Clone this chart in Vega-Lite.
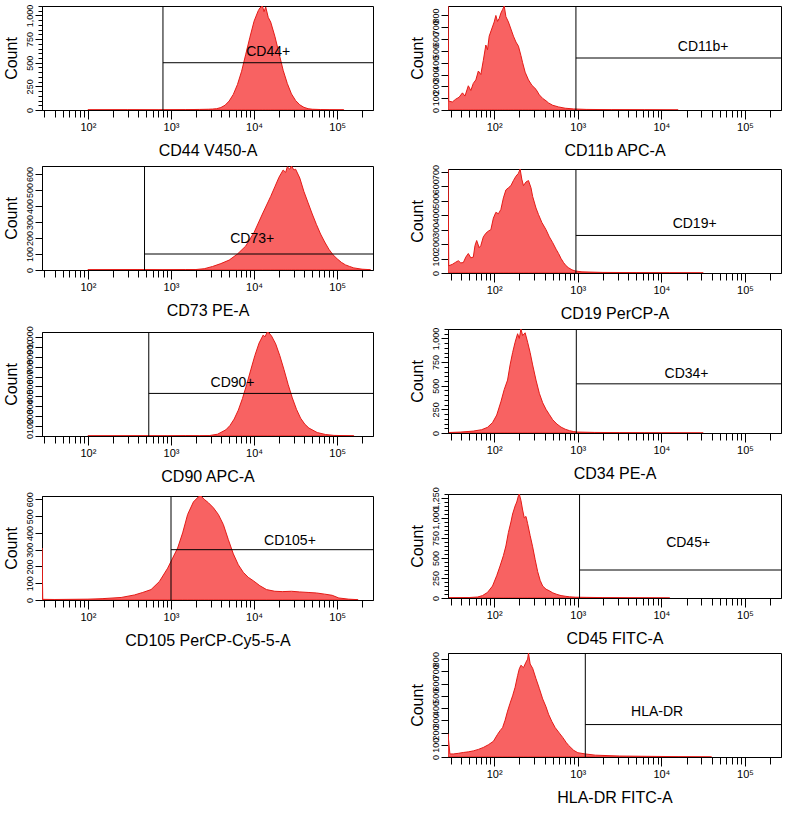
{
"$schema": "https://vega.github.io/schema/vega-lite/v6.json",
"padding": {"left": 2, "top": 3, "right": 2, "bottom": 0},
"config": {"font": "Liberation Sans", "view": {"stroke": "black", "strokeWidth": 1}, "axis": {"grid": false, "domainColor": "black", "tickColor": "black", "labelColor": "black", "titleColor": "black", "titleFontWeight": "normal", "labelFont": "Liberation Sans", "titleFont": "Liberation Sans"}, "rule": {"color": "black", "strokeWidth": 1}, "text": {"fontSize": 14, "align": "center", "baseline": "middle", "color": "black"}},
"datasets": {
"CD44": [{"x":100,"c":2},{"x":300,"c":3},{"x":700,"c":2},{"x":1500,"c":4},{"x":2200,"c":6},{"x":2818,"c":8},{"x":3162,"c":10},{"x":3548,"c":14},{"x":3981,"c":26},{"x":4467,"c":50},{"x":5012,"c":95},{"x":5623,"c":165},{"x":6310,"c":270},{"x":7079,"c":410},{"x":7943,"c":590},{"x":8913,"c":770},{"x":10000,"c":940},{"x":11220,"c":1050},{"x":11749,"c":1080},{"x":12589,"c":1100},{"x":13183,"c":1040},{"x":13804,"c":1090},{"x":14791,"c":980},{"x":15849,"c":930},{"x":17783,"c":780},{"x":19953,"c":600},{"x":22387,"c":420},{"x":25119,"c":280},{"x":28184,"c":170},{"x":31623,"c":100},{"x":35481,"c":55},{"x":39811,"c":28},{"x":44668,"c":14},{"x":50119,"c":8},{"x":63096,"c":5},{"x":80000,"c":3},{"x":120000,"c":2}],
"CD73": [{"x":100,"c":2},{"x":400,"c":3},{"x":800,"c":2},{"x":1500,"c":3},{"x":1995,"c":3},{"x":2512,"c":8},{"x":3162,"c":22},{"x":3981,"c":40},{"x":5012,"c":62},{"x":6310,"c":100},{"x":7943,"c":150},{"x":10000,"c":235},{"x":12589,"c":350},{"x":15849,"c":460},{"x":17783,"c":520},{"x":19953,"c":580},{"x":22387,"c":625},{"x":23988,"c":610},{"x":25119,"c":645},{"x":26915,"c":630},{"x":28184,"c":650},{"x":30200,"c":625},{"x":31623,"c":630},{"x":35481,"c":575},{"x":39811,"c":490},{"x":44668,"c":420},{"x":50119,"c":350},{"x":56234,"c":285},{"x":63096,"c":225},{"x":70795,"c":175},{"x":79433,"c":130},{"x":89125,"c":95},{"x":100000,"c":70},{"x":112202,"c":48},{"x":125893,"c":32},{"x":141254,"c":22},{"x":158489,"c":13},{"x":199526,"c":5},{"x":251189,"c":2}],
"CD90": [{"x":100,"c":2},{"x":400,"c":3},{"x":900,"c":2},{"x":1500,"c":4},{"x":2200,"c":3},{"x":2884,"c":4},{"x":3631,"c":18},{"x":4571,"c":62},{"x":5129,"c":106},{"x":5754,"c":171},{"x":6457,"c":261},{"x":7244,"c":378},{"x":8128,"c":517},{"x":9120,"c":667},{"x":10233,"c":814},{"x":11482,"c":938},{"x":12882,"c":1020},{"x":13490,"c":1000},{"x":14454,"c":1050},{"x":15136,"c":1040},{"x":16218,"c":1010},{"x":18197,"c":930},{"x":20417,"c":810},{"x":22909,"c":670},{"x":25704,"c":520},{"x":28840,"c":385},{"x":32359,"c":270},{"x":36308,"c":180},{"x":40738,"c":120},{"x":45709,"c":80},{"x":57544,"c":35},{"x":72444,"c":15},{"x":91201,"c":6},{"x":158489,"c":2}],
"CD105": [{"x":28,"c":310},{"x":28.6,"c":4},{"x":40,"c":3},{"x":100,"c":5},{"x":148,"c":8},{"x":251,"c":15},{"x":363,"c":30},{"x":457,"c":45},{"x":575,"c":62},{"x":724,"c":110},{"x":912,"c":190},{"x":1047,"c":250},{"x":1202,"c":310},{"x":1380,"c":400},{"x":1585,"c":510},{"x":1862,"c":585},{"x":2138,"c":615},{"x":2291,"c":620},{"x":2512,"c":600},{"x":2818,"c":580},{"x":3236,"c":550},{"x":3715,"c":510},{"x":4266,"c":450},{"x":4898,"c":360},{"x":5623,"c":275},{"x":6457,"c":210},{"x":7413,"c":165},{"x":8511,"c":135},{"x":9772,"c":115},{"x":11749,"c":85},{"x":14125,"c":62},{"x":17783,"c":52},{"x":21878,"c":50},{"x":28184,"c":52},{"x":35481,"c":48},{"x":44668,"c":45},{"x":56234,"c":42},{"x":70795,"c":35},{"x":87096,"c":28},{"x":104713,"c":12},{"x":138038,"c":5},{"x":177828,"c":2}],
"CD11b": [{"x":28,"c":880},{"x":28.6,"c":75},{"x":31.6,"c":68},{"x":34.7,"c":92},{"x":38,"c":108},{"x":41.7,"c":145},{"x":44.7,"c":118},{"x":49,"c":205},{"x":52.5,"c":165},{"x":56.2,"c":225},{"x":60.3,"c":255},{"x":64.6,"c":330},{"x":69.2,"c":300},{"x":74.1,"c":420},{"x":79.4,"c":550},{"x":83.2,"c":510},{"x":87.1,"c":625},{"x":93.3,"c":685},{"x":100,"c":745},{"x":104.7,"c":800},{"x":109.6,"c":750},{"x":114.8,"c":775},{"x":120.2,"c":820},{"x":125.9,"c":850},{"x":131.8,"c":880},{"x":138,"c":790},{"x":147.9,"c":745},{"x":158.5,"c":685},{"x":169.8,"c":625},{"x":182,"c":575},{"x":195,"c":540},{"x":208.9,"c":460},{"x":218.8,"c":400},{"x":234.4,"c":320},{"x":257,"c":255},{"x":281.8,"c":210},{"x":316.2,"c":175},{"x":346.7,"c":128},{"x":380.2,"c":98},{"x":416.9,"c":78},{"x":446.7,"c":60},{"x":501.2,"c":40},{"x":588.8,"c":26},{"x":707.9,"c":15},{"x":891.3,"c":9},{"x":1259,"c":5},{"x":2512,"c":3},{"x":6310,"c":2},{"x":15849,"c":1}],
"CD19": [{"x":28,"c":720},{"x":28.6,"c":50},{"x":31.6,"c":60},{"x":34.7,"c":75},{"x":37.2,"c":85},{"x":39.8,"c":70},{"x":42.7,"c":72},{"x":45.7,"c":110},{"x":49,"c":135},{"x":52.5,"c":105},{"x":56.2,"c":110},{"x":58.9,"c":190},{"x":61.7,"c":225},{"x":66.1,"c":175},{"x":69.2,"c":190},{"x":74.1,"c":250},{"x":79.4,"c":275},{"x":85.1,"c":290},{"x":91.2,"c":300},{"x":97.7,"c":380},{"x":104.7,"c":420},{"x":112.2,"c":410},{"x":120.2,"c":440},{"x":128.8,"c":520},{"x":138,"c":575},{"x":147.9,"c":590},{"x":158.5,"c":605},{"x":169.8,"c":640},{"x":182,"c":670},{"x":195,"c":690},{"x":204.2,"c":720},{"x":213.8,"c":650},{"x":223.9,"c":605},{"x":239.9,"c":630},{"x":257,"c":640},{"x":275.4,"c":590},{"x":288.4,"c":530},{"x":316.2,"c":450},{"x":338.8,"c":405},{"x":371.5,"c":350},{"x":416.9,"c":300},{"x":457.1,"c":250},{"x":501.2,"c":210},{"x":549.5,"c":165},{"x":588.8,"c":135},{"x":631,"c":100},{"x":676.1,"c":72},{"x":724.4,"c":50},{"x":776.2,"c":36},{"x":851.1,"c":22},{"x":933.3,"c":14},{"x":1122,"c":8},{"x":1995,"c":4},{"x":5012,"c":3},{"x":12589,"c":2},{"x":31623,"c":1}],
"CD34": [{"x":28.8,"c":5},{"x":39.8,"c":10},{"x":56.2,"c":20},{"x":70.8,"c":35},{"x":83.2,"c":60},{"x":95.5,"c":110},{"x":107.2,"c":190},{"x":120.2,"c":330},{"x":131.8,"c":460},{"x":144.5,"c":560},{"x":154.9,"c":720},{"x":166,"c":850},{"x":177.8,"c":960},{"x":190.5,"c":1050},{"x":199.5,"c":1000},{"x":208.9,"c":1100},{"x":218.8,"c":1030},{"x":234.4,"c":1060},{"x":251.2,"c":960},{"x":269.2,"c":850},{"x":288.4,"c":720},{"x":316.2,"c":560},{"x":346.7,"c":420},{"x":380.2,"c":320},{"x":416.9,"c":250},{"x":457.1,"c":195},{"x":501.2,"c":140},{"x":562.3,"c":95},{"x":631,"c":62},{"x":707.9,"c":40},{"x":794.3,"c":25},{"x":891.3,"c":15},{"x":1000,"c":10},{"x":1585,"c":6},{"x":3162,"c":4},{"x":6310,"c":3},{"x":10000,"c":2},{"x":31623,"c":1}],
"CD45": [{"x":28.8,"c":4},{"x":50.1,"c":6},{"x":63.1,"c":12},{"x":72.4,"c":30},{"x":83.2,"c":70},{"x":95.5,"c":150},{"x":107.2,"c":280},{"x":117.5,"c":400},{"x":128.8,"c":530},{"x":138,"c":650},{"x":147.9,"c":820},{"x":158.5,"c":950},{"x":166,"c":1050},{"x":177.8,"c":1150},{"x":186.2,"c":1200},{"x":195,"c":1280},{"x":199.5,"c":1300},{"x":208.9,"c":1220},{"x":218.8,"c":1100},{"x":229.1,"c":1000},{"x":239.9,"c":1020},{"x":251.2,"c":930},{"x":269.2,"c":780},{"x":288.4,"c":640},{"x":309,"c":480},{"x":331.1,"c":330},{"x":354.8,"c":220},{"x":380.2,"c":150},{"x":416.9,"c":110},{"x":457.1,"c":90},{"x":501.2,"c":65},{"x":562.3,"c":45},{"x":631,"c":30},{"x":707.9,"c":22},{"x":794.3,"c":15},{"x":933.3,"c":10},{"x":1259,"c":8},{"x":1995,"c":5},{"x":3981,"c":3},{"x":7943,"c":2},{"x":12589,"c":1}],
"HLADR": [{"x":28,"c":190},{"x":29.5,"c":25},{"x":32.4,"c":25},{"x":37.2,"c":30},{"x":42.7,"c":37},{"x":49,"c":42},{"x":56.2,"c":50},{"x":64.6,"c":62},{"x":74.1,"c":78},{"x":85.1,"c":100},{"x":97.7,"c":128},{"x":109.6,"c":185},{"x":117.5,"c":215},{"x":125.9,"c":240},{"x":134.9,"c":300},{"x":144.5,"c":375},{"x":154.9,"c":440},{"x":166,"c":500},{"x":177.8,"c":570},{"x":190.5,"c":665},{"x":199.5,"c":720},{"x":208.9,"c":750},{"x":223.9,"c":730},{"x":239.9,"c":775},{"x":251.2,"c":800},{"x":257,"c":850},{"x":269.2,"c":760},{"x":288.4,"c":725},{"x":316.2,"c":640},{"x":346.7,"c":560},{"x":380.2,"c":475},{"x":416.9,"c":410},{"x":446.7,"c":350},{"x":489.8,"c":290},{"x":537,"c":240},{"x":602.6,"c":195},{"x":660.7,"c":160},{"x":724.4,"c":120},{"x":776.2,"c":95},{"x":891.3,"c":55},{"x":1000,"c":35},{"x":1230,"c":25},{"x":1622,"c":15},{"x":3162,"c":8},{"x":7943,"c":5},{"x":15849,"c":3},{"x":39811,"c":1}]
},
"hconcat": [
{"spacing": 6, "vconcat": [
{"width": 331, "height": 104,
 "encoding": {"x": {"field": "x", "type": "quantitative", "scale": {"type": "log", "domain": [28, 270000], "nice": false}, "axis": {"title": "CD44 V450-A", "values": [30,40,50,60,70,80,90,100,200,300,400,500,600,700,800,900,1000,2000,3000,4000,5000,6000,7000,8000,9000,10000,20000,30000,40000,50000,60000,70000,80000,90000,100000,200000], "labelExpr": "datum.value == 100 ? '10²' : datum.value == 1000 ? '10³' : datum.value == 10000 ? '10⁴' : datum.value == 100000 ? '10⁵' : ''", "tickSize": {"condition": {"test": "indexof([100,1000,10000,100000], datum.value) >= 0", "value": 9}, "value": 7}, "labelOverlap": false, "labelFontSize": 11, "labelPadding": 2, "titleFontSize": 16, "titlePadding": 10}},
   "y": {"field": "c", "type": "quantitative", "scale": {"domain": [0, 1100], "nice": false}, "axis": {"title": "Count", "values": [0,50,100,150,200,250,300,350,400,450,500,550,600,650,700,750,800,850,900,950,1000,1050,1100], "labelExpr": "datum.value % 250 == 0 ? format(datum.value, ',') : ''", "tickSize": {"condition": {"test": "datum.value % 250 == 0", "value": 7}, "value": 4}, "labelAngle": -90, "labelAlign": "center", "labelBaseline": "bottom", "labelOverlap": false, "labelFontSize": 9, "labelPadding": 1, "titleFontSize": 16, "titlePadding": 6}}},
 "layer": [
  {"data": {"name": "CD44"}, "mark": {"type": "area", "fill": "#f86262", "opacity": 1, "fillOpacity": 1, "stroke": "#e41b17", "strokeWidth": 1, "clip": true}},
  {"data": {"values": [{"x": 800, "c": 0, "c2": 1100}]}, "mark": "rule", "encoding": {"y2": {"field": "c2"}}},
  {"data": {"values": [{"x": 800, "x2": 270000, "c": 500}]}, "mark": "rule", "encoding": {"x2": {"field": "x2"}}},
  {"data": {"values": [{"x": 14800, "c": 609, "label": "CD44+"}]}, "mark": "text", "encoding": {"text": {"field": "label"}}}
 ]},
{"width": 331, "height": 104,
 "encoding": {"x": {"field": "x", "type": "quantitative", "scale": {"type": "log", "domain": [28, 270000], "nice": false}, "axis": {"title": "CD73 PE-A", "values": [30,40,50,60,70,80,90,100,200,300,400,500,600,700,800,900,1000,2000,3000,4000,5000,6000,7000,8000,9000,10000,20000,30000,40000,50000,60000,70000,80000,90000,100000,200000], "labelExpr": "datum.value == 100 ? '10²' : datum.value == 1000 ? '10³' : datum.value == 10000 ? '10⁴' : datum.value == 100000 ? '10⁵' : ''", "tickSize": {"condition": {"test": "indexof([100,1000,10000,100000], datum.value) >= 0", "value": 9}, "value": 7}, "labelOverlap": false, "labelFontSize": 11, "labelPadding": 2, "titleFontSize": 16, "titlePadding": 10}},
   "y": {"field": "c", "type": "quantitative", "scale": {"domain": [0, 650], "nice": false}, "axis": {"title": "Count", "values": [0,100,200,300,400,500,600], "labelExpr": "format(datum.value, ',')", "tickSize": 7, "labelAngle": -90, "labelAlign": "center", "labelBaseline": "bottom", "labelOverlap": false, "labelFontSize": 9, "labelPadding": 1, "titleFontSize": 16, "titlePadding": 6}}},
 "layer": [
  {"data": {"name": "CD73"}, "mark": {"type": "area", "fill": "#f86262", "opacity": 1, "fillOpacity": 1, "stroke": "#e41b17", "strokeWidth": 1, "clip": true}},
  {"data": {"values": [{"x": 480, "c": 0, "c2": 650}]}, "mark": "rule", "encoding": {"y2": {"field": "c2"}}},
  {"data": {"values": [{"x": 480, "x2": 270000, "c": 100}]}, "mark": "rule", "encoding": {"x2": {"field": "x2"}}},
  {"data": {"values": [{"x": 9500, "c": 194, "label": "CD73+"}]}, "mark": "text", "encoding": {"text": {"field": "label"}}}
 ]},
{"width": 331, "height": 104,
 "encoding": {"x": {"field": "x", "type": "quantitative", "scale": {"type": "log", "domain": [28, 270000], "nice": false}, "axis": {"title": "CD90 APC-A", "values": [30,40,50,60,70,80,90,100,200,300,400,500,600,700,800,900,1000,2000,3000,4000,5000,6000,7000,8000,9000,10000,20000,30000,40000,50000,60000,70000,80000,90000,100000,200000], "labelExpr": "datum.value == 100 ? '10²' : datum.value == 1000 ? '10³' : datum.value == 10000 ? '10⁴' : datum.value == 100000 ? '10⁵' : ''", "tickSize": {"condition": {"test": "indexof([100,1000,10000,100000], datum.value) >= 0", "value": 9}, "value": 7}, "labelOverlap": false, "labelFontSize": 11, "labelPadding": 2, "titleFontSize": 16, "titlePadding": 10}},
   "y": {"field": "c", "type": "quantitative", "scale": {"domain": [0, 1050], "nice": false}, "axis": {"title": "Count", "values": [0,100,200,300,400,500,600,700,800,900,1000], "labelExpr": "format(datum.value, ',')", "tickSize": 7, "labelAngle": -90, "labelAlign": "center", "labelBaseline": "bottom", "labelOverlap": false, "labelFontSize": 9, "labelPadding": 1, "titleFontSize": 16, "titlePadding": 6}}},
 "layer": [
  {"data": {"name": "CD90"}, "mark": {"type": "area", "fill": "#f86262", "opacity": 1, "fillOpacity": 1, "stroke": "#e41b17", "strokeWidth": 1, "clip": true}},
  {"data": {"values": [{"x": 540, "c": 0, "c2": 1050}]}, "mark": "rule", "encoding": {"y2": {"field": "c2"}}},
  {"data": {"values": [{"x": 540, "x2": 270000, "c": 430}]}, "mark": "rule", "encoding": {"x2": {"field": "x2"}}},
  {"data": {"values": [{"x": 5500, "c": 535, "label": "CD90+"}]}, "mark": "text", "encoding": {"text": {"field": "label"}}}
 ]},
{"width": 331, "height": 104,
 "encoding": {"x": {"field": "x", "type": "quantitative", "scale": {"type": "log", "domain": [28, 270000], "nice": false}, "axis": {"title": "CD105 PerCP-Cy5-5-A", "values": [30,40,50,60,70,80,90,100,200,300,400,500,600,700,800,900,1000,2000,3000,4000,5000,6000,7000,8000,9000,10000,20000,30000,40000,50000,60000,70000,80000,90000,100000,200000], "labelExpr": "datum.value == 100 ? '10²' : datum.value == 1000 ? '10³' : datum.value == 10000 ? '10⁴' : datum.value == 100000 ? '10⁵' : ''", "tickSize": {"condition": {"test": "indexof([100,1000,10000,100000], datum.value) >= 0", "value": 9}, "value": 7}, "labelOverlap": false, "labelFontSize": 11, "labelPadding": 2, "titleFontSize": 16, "titlePadding": 10}},
   "y": {"field": "c", "type": "quantitative", "scale": {"domain": [0, 620], "nice": false}, "axis": {"title": "Count", "values": [0,100,200,300,400,500,600], "labelExpr": "format(datum.value, ',')", "tickSize": 7, "labelAngle": -90, "labelAlign": "center", "labelBaseline": "bottom", "labelOverlap": false, "labelFontSize": 9, "labelPadding": 1, "titleFontSize": 16, "titlePadding": 6}}},
 "layer": [
  {"data": {"name": "CD105"}, "mark": {"type": "area", "fill": "#f86262", "opacity": 1, "fillOpacity": 1, "stroke": "#e41b17", "strokeWidth": 1, "clip": true}},
  {"data": {"values": [{"x": 1000, "c": 0, "c2": 620}]}, "mark": "rule", "encoding": {"y2": {"field": "c2"}}},
  {"data": {"values": [{"x": 1000, "x2": 270000, "c": 300}]}, "mark": "rule", "encoding": {"x2": {"field": "x2"}}},
  {"data": {"values": [{"x": 27000, "c": 349, "label": "CD105+"}]}, "mark": "text", "encoding": {"text": {"field": "label"}}}
 ]}
]},
{"spacing": 4, "vconcat": [
{"width": 333, "height": 104,
 "encoding": {"x": {"field": "x", "type": "quantitative", "scale": {"type": "log", "domain": [28, 270000], "nice": false}, "axis": {"title": "CD11b APC-A", "values": [30,40,50,60,70,80,90,100,200,300,400,500,600,700,800,900,1000,2000,3000,4000,5000,6000,7000,8000,9000,10000,20000,30000,40000,50000,60000,70000,80000,90000,100000,200000], "labelExpr": "datum.value == 100 ? '10²' : datum.value == 1000 ? '10³' : datum.value == 10000 ? '10⁴' : datum.value == 100000 ? '10⁵' : ''", "tickSize": {"condition": {"test": "indexof([100,1000,10000,100000], datum.value) >= 0", "value": 9}, "value": 7}, "labelOverlap": false, "labelFontSize": 11, "labelPadding": 2, "titleFontSize": 16, "titlePadding": 10}},
   "y": {"field": "c", "type": "quantitative", "scale": {"domain": [0, 880], "nice": false}, "axis": {"title": "Count", "values": [0,100,200,300,400,500,600,700,800], "labelExpr": "format(datum.value, ',')", "tickSize": 7, "labelAngle": -90, "labelAlign": "center", "labelBaseline": "bottom", "labelOverlap": false, "labelFontSize": 9, "labelPadding": 1, "titleFontSize": 16, "titlePadding": 6}}},
 "layer": [
  {"data": {"name": "CD11b"}, "mark": {"type": "area", "fill": "#f86262", "opacity": 1, "fillOpacity": 1, "stroke": "#e41b17", "strokeWidth": 1, "clip": true}},
  {"data": {"values": [{"x": 950, "c": 0, "c2": 880}]}, "mark": "rule", "encoding": {"y2": {"field": "c2"}}},
  {"data": {"values": [{"x": 950, "x2": 270000, "c": 440}]}, "mark": "rule", "encoding": {"x2": {"field": "x2"}}},
  {"data": {"values": [{"x": 31600, "c": 536, "label": "CD11b+"}]}, "mark": "text", "encoding": {"text": {"field": "label"}}}
 ]},
{"width": 333, "height": 104,
 "encoding": {"x": {"field": "x", "type": "quantitative", "scale": {"type": "log", "domain": [28, 270000], "nice": false}, "axis": {"title": "CD19 PerCP-A", "values": [30,40,50,60,70,80,90,100,200,300,400,500,600,700,800,900,1000,2000,3000,4000,5000,6000,7000,8000,9000,10000,20000,30000,40000,50000,60000,70000,80000,90000,100000,200000], "labelExpr": "datum.value == 100 ? '10²' : datum.value == 1000 ? '10³' : datum.value == 10000 ? '10⁴' : datum.value == 100000 ? '10⁵' : ''", "tickSize": {"condition": {"test": "indexof([100,1000,10000,100000], datum.value) >= 0", "value": 9}, "value": 7}, "labelOverlap": false, "labelFontSize": 11, "labelPadding": 2, "titleFontSize": 16, "titlePadding": 10}},
   "y": {"field": "c", "type": "quantitative", "scale": {"domain": [0, 720], "nice": false}, "axis": {"title": "Count", "values": [0,100,200,300,400,500,600,700], "labelExpr": "format(datum.value, ',')", "tickSize": 7, "labelAngle": -90, "labelAlign": "center", "labelBaseline": "bottom", "labelOverlap": false, "labelFontSize": 9, "labelPadding": 1, "titleFontSize": 16, "titlePadding": 6}}},
 "layer": [
  {"data": {"name": "CD19"}, "mark": {"type": "area", "fill": "#f86262", "opacity": 1, "fillOpacity": 1, "stroke": "#e41b17", "strokeWidth": 1, "clip": true}},
  {"data": {"values": [{"x": 950, "c": 0, "c2": 720}]}, "mark": "rule", "encoding": {"y2": {"field": "c2"}}},
  {"data": {"values": [{"x": 950, "x2": 270000, "c": 260}]}, "mark": "rule", "encoding": {"x2": {"field": "x2"}}},
  {"data": {"values": [{"x": 25000, "c": 339, "label": "CD19+"}]}, "mark": "text", "encoding": {"text": {"field": "label"}}}
 ]},
{"width": 333, "height": 104,
 "encoding": {"x": {"field": "x", "type": "quantitative", "scale": {"type": "log", "domain": [28, 270000], "nice": false}, "axis": {"title": "CD34 PE-A", "values": [30,40,50,60,70,80,90,100,200,300,400,500,600,700,800,900,1000,2000,3000,4000,5000,6000,7000,8000,9000,10000,20000,30000,40000,50000,60000,70000,80000,90000,100000,200000], "labelExpr": "datum.value == 100 ? '10²' : datum.value == 1000 ? '10³' : datum.value == 10000 ? '10⁴' : datum.value == 100000 ? '10⁵' : ''", "tickSize": {"condition": {"test": "indexof([100,1000,10000,100000], datum.value) >= 0", "value": 9}, "value": 7}, "labelOverlap": false, "labelFontSize": 11, "labelPadding": 2, "titleFontSize": 16, "titlePadding": 10}},
   "y": {"field": "c", "type": "quantitative", "scale": {"domain": [0, 1100], "nice": false}, "axis": {"title": "Count", "values": [0,50,100,150,200,250,300,350,400,450,500,550,600,650,700,750,800,850,900,950,1000,1050,1100], "labelExpr": "datum.value % 250 == 0 ? format(datum.value, ',') : ''", "tickSize": {"condition": {"test": "datum.value % 250 == 0", "value": 7}, "value": 4}, "labelAngle": -90, "labelAlign": "center", "labelBaseline": "bottom", "labelOverlap": false, "labelFontSize": 9, "labelPadding": 1, "titleFontSize": 16, "titlePadding": 6}}},
 "layer": [
  {"data": {"name": "CD34"}, "mark": {"type": "area", "fill": "#f86262", "opacity": 1, "fillOpacity": 1, "stroke": "#e41b17", "strokeWidth": 1, "clip": true}},
  {"data": {"values": [{"x": 960, "c": 0, "c2": 1100}]}, "mark": "rule", "encoding": {"y2": {"field": "c2"}}},
  {"data": {"values": [{"x": 960, "x2": 270000, "c": 520}]}, "mark": "rule", "encoding": {"x2": {"field": "x2"}}},
  {"data": {"values": [{"x": 20000, "c": 625, "label": "CD34+"}]}, "mark": "text", "encoding": {"text": {"field": "label"}}}
 ]},
{"width": 333, "height": 104,
 "encoding": {"x": {"field": "x", "type": "quantitative", "scale": {"type": "log", "domain": [28, 270000], "nice": false}, "axis": {"title": "CD45 FITC-A", "values": [30,40,50,60,70,80,90,100,200,300,400,500,600,700,800,900,1000,2000,3000,4000,5000,6000,7000,8000,9000,10000,20000,30000,40000,50000,60000,70000,80000,90000,100000,200000], "labelExpr": "datum.value == 100 ? '10²' : datum.value == 1000 ? '10³' : datum.value == 10000 ? '10⁴' : datum.value == 100000 ? '10⁵' : ''", "tickSize": {"condition": {"test": "indexof([100,1000,10000,100000], datum.value) >= 0", "value": 9}, "value": 7}, "labelOverlap": false, "labelFontSize": 11, "labelPadding": 2, "titleFontSize": 16, "titlePadding": 10}},
   "y": {"field": "c", "type": "quantitative", "scale": {"domain": [0, 1300], "nice": false}, "axis": {"title": "Count", "values": [0,50,100,150,200,250,300,350,400,450,500,550,600,650,700,750,800,850,900,950,1000,1050,1100,1150,1200,1250,1300], "labelExpr": "datum.value % 250 == 0 ? format(datum.value, ',') : ''", "tickSize": {"condition": {"test": "datum.value % 250 == 0", "value": 7}, "value": 4}, "labelAngle": -90, "labelAlign": "center", "labelBaseline": "bottom", "labelOverlap": false, "labelFontSize": 9, "labelPadding": 1, "titleFontSize": 16, "titlePadding": 6}}},
 "layer": [
  {"data": {"name": "CD45"}, "mark": {"type": "area", "fill": "#f86262", "opacity": 1, "fillOpacity": 1, "stroke": "#e41b17", "strokeWidth": 1, "clip": true}},
  {"data": {"values": [{"x": 1050, "c": 0, "c2": 1300}]}, "mark": "rule", "encoding": {"y2": {"field": "c2"}}},
  {"data": {"values": [{"x": 1050, "x2": 270000, "c": 350}]}, "mark": "rule", "encoding": {"x2": {"field": "x2"}}},
  {"data": {"values": [{"x": 20900, "c": 693, "label": "CD45+"}]}, "mark": "text", "encoding": {"text": {"field": "label"}}}
 ]},
{"width": 333, "height": 104,
 "encoding": {"x": {"field": "x", "type": "quantitative", "scale": {"type": "log", "domain": [28, 270000], "nice": false}, "axis": {"title": "HLA-DR FITC-A", "values": [30,40,50,60,70,80,90,100,200,300,400,500,600,700,800,900,1000,2000,3000,4000,5000,6000,7000,8000,9000,10000,20000,30000,40000,50000,60000,70000,80000,90000,100000,200000], "labelExpr": "datum.value == 100 ? '10²' : datum.value == 1000 ? '10³' : datum.value == 10000 ? '10⁴' : datum.value == 100000 ? '10⁵' : ''", "tickSize": {"condition": {"test": "indexof([100,1000,10000,100000], datum.value) >= 0", "value": 9}, "value": 7}, "labelOverlap": false, "labelFontSize": 11, "labelPadding": 2, "titleFontSize": 16, "titlePadding": 10}},
   "y": {"field": "c", "type": "quantitative", "scale": {"domain": [0, 850], "nice": false}, "axis": {"title": "Count", "values": [0,100,200,300,400,500,600,700,800], "labelExpr": "format(datum.value, ',')", "tickSize": 7, "labelAngle": -90, "labelAlign": "center", "labelBaseline": "bottom", "labelOverlap": false, "labelFontSize": 9, "labelPadding": 1, "titleFontSize": 16, "titlePadding": 6}}},
 "layer": [
  {"data": {"name": "HLADR"}, "mark": {"type": "area", "fill": "#f86262", "opacity": 1, "fillOpacity": 1, "stroke": "#e41b17", "strokeWidth": 1, "clip": true}},
  {"data": {"values": [{"x": 1230, "c": 0, "c2": 850}]}, "mark": "rule", "encoding": {"y2": {"field": "c2"}}},
  {"data": {"values": [{"x": 1230, "x2": 270000, "c": 265}]}, "mark": "rule", "encoding": {"x2": {"field": "x2"}}},
  {"data": {"values": [{"x": 8900, "c": 369, "label": "HLA-DR"}]}, "mark": "text", "encoding": {"text": {"field": "label"}}}
 ]}
]}
],
"spacing": 34
}
